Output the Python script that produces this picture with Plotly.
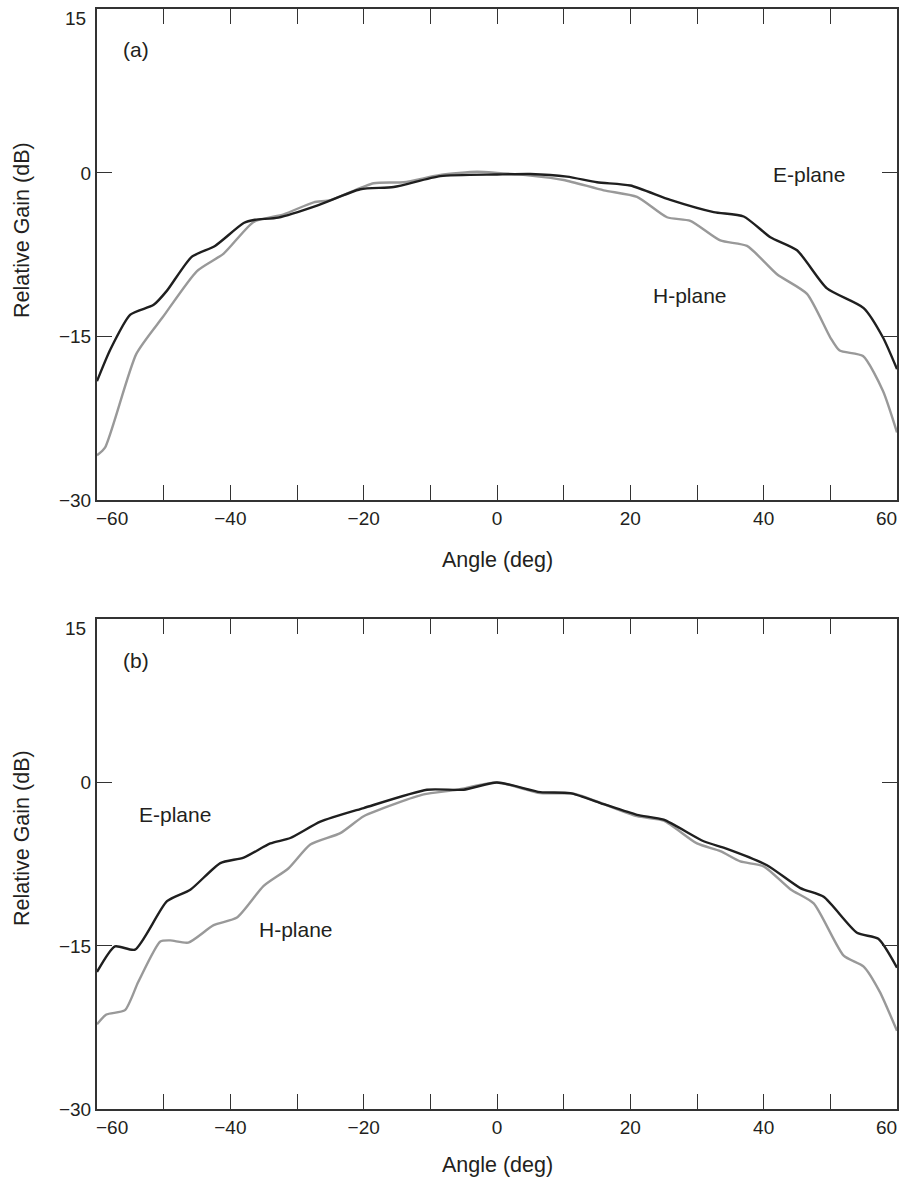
import plotly.graph_objects as go

# Panel (a): measured gain patterns
angle_a_e = [-60, -58, -55, -51.5, -49.5, -45.8, -42.3, -38, -36.3, -32.8, -27, -20.5, -15.5,
             -8.5, 0, 5, 10.5, 15, 20, 26, 32.5, 37, 41, 45, 49.5, 55, 57.9, 60]
gain_a_e = [-19.1, -16.2, -13.0, -12.1, -10.8, -7.7, -6.7, -4.6, -4.3, -4.1, -3.0, -1.5, -1.3,
            -0.3, -0.15, -0.1, -0.34, -0.86, -1.16, -2.48, -3.6, -4.0, -5.9, -7.1, -10.6, -12.4, -15.1, -18.0]

angle_a_h = [-60, -58.8, -54.1, -50.1, -45, -41, -36.5, -32, -27.5, -25, -18.5, -14, -8.5, -3,
             0, 5, 10, 16, 21, 25.5, 29, 33.5, 37.5, 42, 46.5, 50, 51.4, 54.9, 57.9, 60]
gain_a_h = [-25.9, -25.2, -16.6, -13.2, -9.0, -7.4, -4.5, -3.8, -2.7, -2.5, -0.95, -0.86, -0.2, 0.1,
            0, -0.25, -0.65, -1.6, -2.2, -4.07, -4.4, -6.2, -6.7, -9.3, -11.1, -15.1, -16.3, -16.8, -20.0, -23.8]

# Panel (b): measured gain patterns
angle_b_e = [-60, -57.3, -54.3, -49.5, -46, -41.5, -38, -34, -31, -26.5, -20, -10.5, -5, 0,
             6.5, 11, 16, 21, 25, 31, 34.5, 40.5, 45.5, 49, 54, 57.2, 60]
gain_b_e = [-17.4, -15.05, -15.35, -10.9, -9.85, -7.4, -6.9, -5.6, -5.1, -3.6, -2.35, -0.67, -0.67, 0,
            -0.89, -0.98, -1.99, -2.97, -3.42, -5.4, -6.1, -7.6, -9.7, -10.5, -13.8, -14.35, -17.0]

angle_b_h = [-60, -58.6, -55.8, -53.8, -50.5, -49, -46.3, -42.5, -39, -35, -31.3, -28, -23.5, -20,
             -15, -11, -6, 0, 6.5, 11.5, 21, 25, 30, 33.5, 36.5, 40, 44, 47.5, 52, 55, 57.4, 60]
gain_b_h = [-22.2, -21.3, -20.9, -18.3, -14.6, -14.5, -14.7, -13.1, -12.4, -9.5, -7.9, -5.7, -4.65, -3.1,
            -1.9, -1.1, -0.67, 0, -0.98, -1.04, -3.1, -3.5, -5.6, -6.3, -7.25, -7.7, -9.8, -11.1, -15.9, -16.9, -19.2, -22.8]

x_ticks = list(range(-60, 61, 10))
x_inner_labels = [-40, -20, 0, 20, 40]
x_edge_labels = [-60, 60]
y_ticks = [15, 0, -15, -30]
y_inner_labels = [0, -15, -30]
y_top_label = 15


def minus(v):
    return "\u2212" + str(-v) if v < 0 else str(v)


x_text = [minus(v) if v in x_inner_labels else "" for v in x_ticks]
y_text = [minus(v) if v in y_inner_labels else "" for v in y_ticks]

W, H = 904, 1182
FONT = "Liberation Sans, Arial, Helvetica, sans-serif"
INK = "#231f20"
E_COLOR = "#1f1f1f"
H_COLOR = "#999999"


def py(px):
    return 1 - px / H


def px_x(px):
    return px / W


fig = go.Figure()
panels = [
    ("x", "y", angle_a_e, gain_a_e, angle_a_h, gain_a_h),
    ("x2", "y2", angle_b_e, gain_b_e, angle_b_h, gain_b_h),
]
for xa, ya, ae, ge, ah, gh in panels:
    fig.add_trace(go.Scatter(x=ah, y=gh, xaxis=xa, yaxis=ya, mode="lines",
                             line=dict(color=H_COLOR, width=2.4, shape="spline", smoothing=0.6),
                             showlegend=False))
    fig.add_trace(go.Scatter(x=ae, y=ge, xaxis=xa, yaxis=ya, mode="lines",
                             line=dict(color=E_COLOR, width=2.4, shape="spline", smoothing=0.6),
                             showlegend=False))

x_dom = [px_x(97), px_x(897)]
dom_a = [py(500), py(9.3)]
dom_b = [py(1109.3), py(619)]

label_font = dict(family=FONT, size=19, color=INK)

axis_common = dict(showline=True, linecolor="#333333", linewidth=2, mirror="ticks",
                   ticks="inside", ticklen=15, tickwidth=1.3, tickcolor="#333333",
                   showgrid=False, zeroline=False, automargin=False,
                   tickfont=label_font)

xa = dict(axis_common, range=[-60, 60], tickmode="array", tickvals=x_ticks, ticktext=x_text,
          domain=x_dom)
ya = dict(axis_common, range=[-30, 15], tickmode="array", tickvals=y_ticks, ticktext=y_text)

fig.update_layout(
    width=W, height=H,
    margin=dict(l=0, r=0, t=0, b=0),
    paper_bgcolor="white", plot_bgcolor="white",
    xaxis=dict(xa, anchor="y"),
    yaxis=dict(ya, domain=dom_a, anchor="x"),
    xaxis2=dict(xa, anchor="y2"),
    yaxis2=dict(ya, domain=dom_b, anchor="x2"),
)

for xref, yref in (("x", "y"), ("x2", "y2")):
    # End labels of the angle axis sit just inside the frame edges
    for v in x_edge_labels:
        fig.add_annotation(text=minus(v), x=v, y=-30, xref=xref, yref=yref,
                           xanchor="center", yanchor="top",
                           xshift=15 if v < 0 else -11, yshift=-6, showarrow=False,
                           font=label_font)
    # Top gain label hangs just below the upper frame line
    fig.add_annotation(text=minus(y_top_label), x=-60, y=y_top_label, xref=xref, yref=yref,
                       xanchor="right", yanchor="top", xshift=-9, yshift=3, showarrow=False,
                       font=label_font)

annots = [
    ("(a)", 136, 50, 21),
    ("(b)", 136, 660, 21),
    ("E-plane", 809, 174, 21),
    ("H-plane", 690, 296, 21),
    ("E-plane", 175, 814, 21),
    ("H-plane", 296, 929, 21),
    ("Angle (deg)", 497, 560, 21.5),
    ("Angle (deg)", 497, 1165, 21.5),
]
for text, x, y, size in annots:
    fig.add_annotation(text=text, x=px_x(x), y=py(y), xref="paper", yref="paper",
                       xanchor="center", yanchor="middle", showarrow=False,
                       font=dict(family=FONT, size=size, color=INK))

for yc in (230, 838):
    fig.add_annotation(text="Relative Gain (dB)", x=px_x(22), y=py(yc), xref="paper", yref="paper",
                       xanchor="center", yanchor="middle", showarrow=False, textangle=-90,
                       font=dict(family=FONT, size=21.5, color=INK))

fig.write_html("out.html")
